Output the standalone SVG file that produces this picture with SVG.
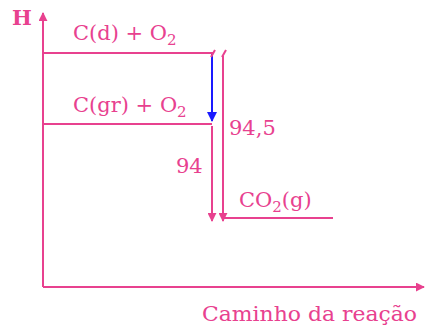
<svg xmlns="http://www.w3.org/2000/svg" width="425" height="327" viewBox="0 0 425 327">
<defs>
<style>
.ln{stroke:#e8418f;stroke-width:2;fill:none}
.tx{fill:#e8418f;font-family:"DejaVu Serif","Liberation Serif",serif;font-size:21px}
</style>
<marker id="ap" viewBox="0 0 10 10" refX="9" refY="5" markerWidth="4.5" markerHeight="4.5" orient="auto"><path d="M0,0 L10,5 L0,10 z" fill="#e8418f"/></marker>
<marker id="ab" viewBox="0 0 10 10" refX="9" refY="5" markerWidth="5" markerHeight="5" orient="auto"><path d="M0,0 L10,5 L0,10 z" fill="#1a1aff"/></marker>
</defs>
<rect width="425" height="327" fill="#fff"/>
<g id="axes">
<line class="ln" x1="43" y1="287" x2="43" y2="13" marker-end="url(#ap)"/>
<line class="ln" x1="43" y1="287" x2="424" y2="287" marker-end="url(#ap)"/>
<text class="tx" x="12" y="25" font-weight="bold" font-size="20">H</text>
<text class="tx" x="202" y="321" font-size="22" textLength="215" lengthAdjust="spacingAndGlyphs">Caminho da reação</text>
</g>
<g id="level-cd">
<line class="ln" x1="43" y1="53" x2="213" y2="53"/>
<text class="tx" x="73" y="40">C(d) + O<tspan font-size="15" dy="5">2</tspan></text>
</g>
<g id="level-cgr">
<line class="ln" x1="43" y1="124" x2="212" y2="124"/>
<text class="tx" x="73" y="112">C(gr) + O<tspan font-size="15" dy="5">2</tspan></text>
</g>
<g id="level-co2">
<line class="ln" x1="223" y1="218" x2="333" y2="218"/>
<text class="tx" x="239" y="207">CO<tspan font-size="15" dy="5">2</tspan><tspan dy="-5">(g)</tspan></text>
</g>
<g id="connectors">
<line x1="212" y1="54" x2="212" y2="121" stroke="#1a1aff" stroke-width="2" marker-end="url(#ab)"/>
<line class="ln" x1="212" y1="126" x2="212" y2="221" marker-end="url(#ap)"/>
<line class="ln" x1="223" y1="56" x2="223" y2="221" marker-end="url(#ap)"/>
<line class="ln" stroke-width="1.5" x1="211" y1="57" x2="215" y2="50"/>
<line class="ln" stroke-width="1.5" x1="222" y1="57" x2="226" y2="50"/>
<text class="tx" x="176" y="173">94</text>
<text class="tx" x="229" y="135">94,5</text>
</g>
</svg>
